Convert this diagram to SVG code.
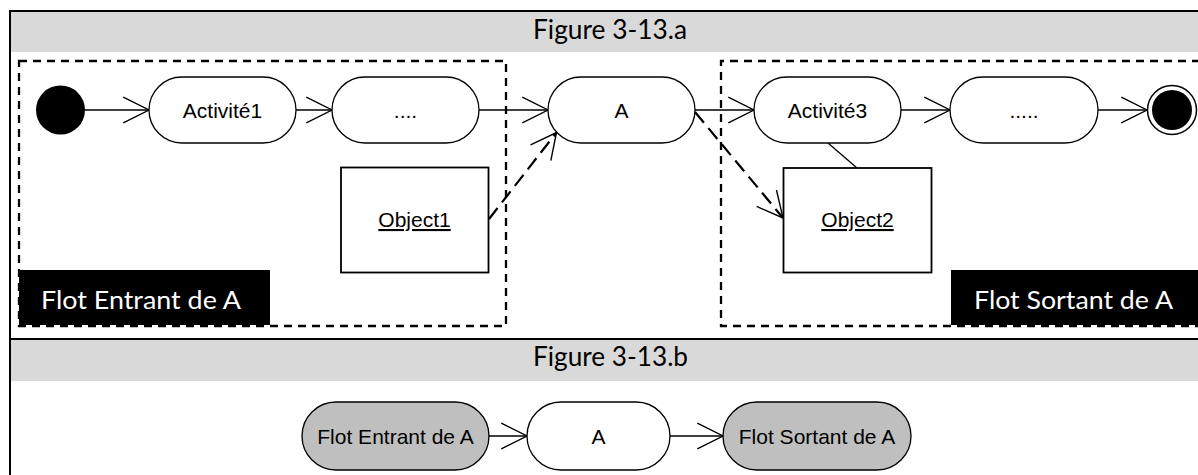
<svg xmlns="http://www.w3.org/2000/svg" width="1198" height="475" viewBox="0 0 1198 475">
<style>
.node{fill:#fff;stroke:#000;stroke-width:1.3}
.gnode{fill:#bfbfbf;stroke:#000;stroke-width:1.3}
.obj{fill:#fff;stroke:#000;stroke-width:1.8}
.t{font-family:"Liberation Sans",Arial,sans-serif;font-size:21px;fill:#000;text-anchor:middle}
.u{text-decoration:underline}
.hdr{font-family:Lato,"Open Sans",sans-serif;font-size:26px;fill:#000}
.lbl{font-family:Lato,"Open Sans",sans-serif;font-size:25px;fill:#fff}
.flow{fill:none;stroke:#000;stroke-width:1.3}
.dflow{fill:none;stroke:#000;stroke-width:2.2;stroke-dasharray:14 7}
.zone{fill:none;stroke:#000;stroke-width:2.3;stroke-dasharray:8 6}
</style>
<defs>
<marker id="open" markerUnits="userSpaceOnUse" markerWidth="30" markerHeight="30" refX="0" refY="0" viewBox="-26 -14 28 28" orient="auto" overflow="visible">
<path d="M-24,-12 L0,0 L-24,12" fill="none" stroke="#000" stroke-width="1.3" stroke-dasharray="none"/>
</marker>
</defs>
<rect x="0" y="0" width="1198" height="475" fill="#fff"/>
<g id="frame">
<rect x="10" y="11" width="1190" height="41" fill="#d9d9d9"/>
<rect x="10" y="339" width="1190" height="42" fill="#d9d9d9"/>
<line x1="9" y1="11" x2="1198" y2="11" stroke="#000" stroke-width="2"/>
<line x1="9" y1="339" x2="1198" y2="339" stroke="#000" stroke-width="2"/>
<line x1="10" y1="10" x2="10" y2="475" stroke="#000" stroke-width="2"/>
<text class="hdr" x="533" y="39" textLength="154" lengthAdjust="spacingAndGlyphs">Figure 3-13.a</text>
<text class="hdr" x="533" y="366" textLength="155" lengthAdjust="spacingAndGlyphs">Figure 3-13.b</text>
</g>
<g id="zone-entrant">
<rect x="19" y="61" width="487" height="265" class="zone"/>
<rect x="19" y="270" width="251" height="55" fill="#000"/>
<text class="lbl" x="41" y="309" textLength="200" lengthAdjust="spacingAndGlyphs">Flot Entrant de A</text>
</g>
<g id="zone-sortant">
<path d="M1200,61 H721 V326 H1200" class="zone"/>
<rect x="951" y="270" width="250" height="55" fill="#000"/>
<text class="lbl" x="974" y="309" textLength="199" lengthAdjust="spacingAndGlyphs">Flot Sortant de A</text>
</g>
<g id="connectors">
<line x1="85" y1="110" x2="149" y2="110" class="flow" marker-end="url(#open)"/>
<line x1="296" y1="110" x2="332" y2="110" class="flow" marker-end="url(#open)"/>
<line x1="479" y1="110" x2="548" y2="110" class="flow" marker-end="url(#open)"/>
<line x1="695" y1="110" x2="754" y2="110" class="flow" marker-end="url(#open)"/>
<line x1="901" y1="110" x2="950" y2="110" class="flow" marker-end="url(#open)"/>
<line x1="1098" y1="110" x2="1147" y2="110" class="flow" marker-end="url(#open)"/>
<line x1="489" y1="219" x2="556.5" y2="132.5" class="dflow" marker-end="url(#open)"/>
<line x1="695" y1="112" x2="783" y2="218" class="dflow" marker-end="url(#open)"/>
<line x1="828" y1="143" x2="857" y2="168" class="flow" stroke-width="1"/>
<line x1="489" y1="436" x2="527" y2="436" class="flow" marker-end="url(#open)"/>
<line x1="670" y1="436" x2="723" y2="436" class="flow" marker-end="url(#open)"/>
</g>
<g id="initial"><circle cx="60.5" cy="110" r="24.5" fill="#000"/></g>
<g id="activite1"><rect x="149" y="77" width="147" height="66" rx="33" class="node"/><text class="t" x="222.5" y="117.5">Activité1</text></g>
<g id="dots1"><rect x="332" y="77" width="147" height="66" rx="33" class="node"/><text class="t" x="405.5" y="117.5">....</text></g>
<g id="a"><rect x="548" y="77" width="147" height="66" rx="33" class="node"/><text class="t" x="621.5" y="117.5">A</text></g>
<g id="activite3"><rect x="754" y="77" width="147" height="66" rx="33" class="node"/><text class="t" x="827.5" y="117.5">Activité3</text></g>
<g id="dots2"><rect x="950" y="77" width="148" height="66" rx="33" class="node"/><text class="t" x="1024" y="117.5">.....</text></g>
<g id="final"><circle cx="1172" cy="110" r="24.5" fill="#fff" stroke="#000" stroke-width="1.5"/><circle cx="1172" cy="110" r="20" fill="#000"/></g>
<g id="object1"><rect x="341" y="167.5" width="147.5" height="105" class="obj"/><text class="t u" x="414.5" y="227">Object1</text></g>
<g id="object2"><rect x="783.5" y="168" width="148" height="104.5" class="obj"/><text class="t u" x="857.5" y="227">Object2</text></g>
<g id="b-entrant"><rect x="302" y="402" width="187" height="68" rx="34" class="gnode"/><text class="t" x="395.5" y="443.5">Flot Entrant de A</text></g>
<g id="b-a"><rect x="527" y="402" width="143" height="68" rx="34" class="node"/><text class="t" x="598.5" y="443.5">A</text></g>
<g id="b-sortant"><rect x="723" y="402" width="188" height="68" rx="34" class="gnode"/><text class="t" x="817" y="443.5">Flot Sortant de A</text></g>
</svg>
